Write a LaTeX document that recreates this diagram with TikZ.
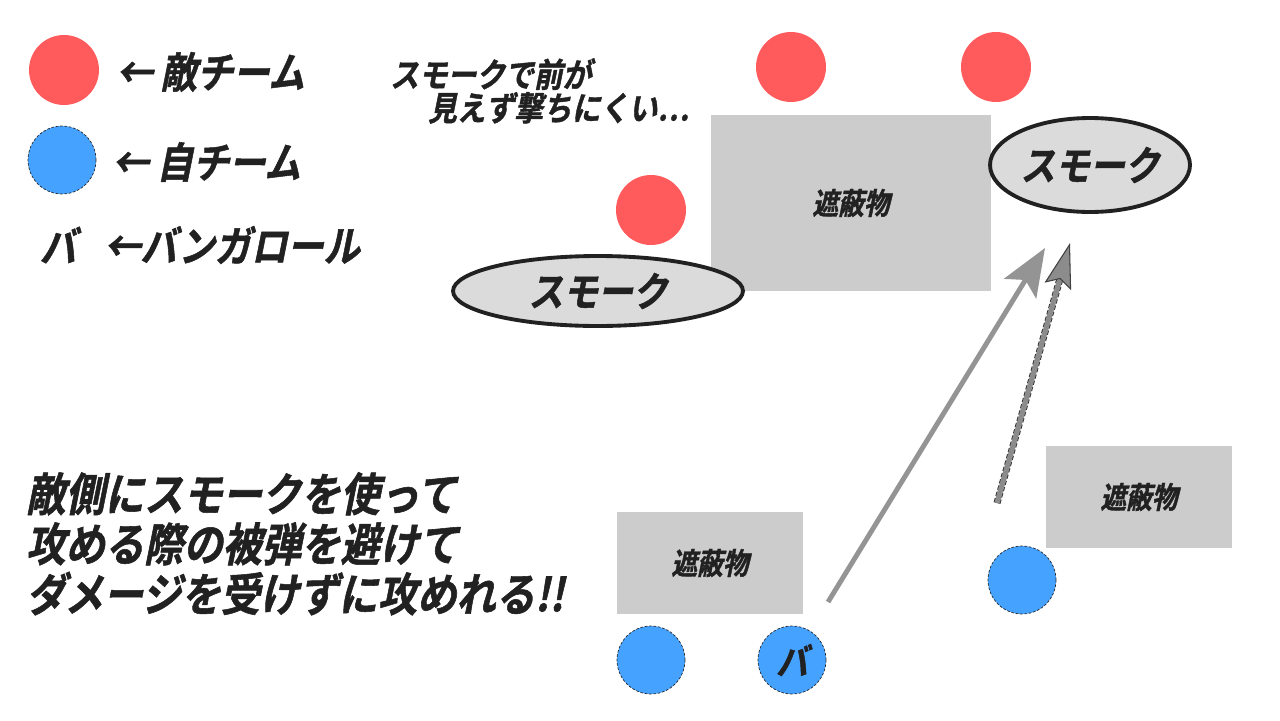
\documentclass[tikz,border=0pt]{standalone}
\usepackage{fontspec}
\usepackage{tikz}
\usetikzlibrary{shapes.geometric,arrows.meta}
\newfontfamily\jpfont[FakeSlant=0.2,FakeStretch=0.86,BoldFont={Noto Sans CJK JP Bold},BoldFeatures={FakeBold=1.2}]{Noto Sans CJK JP}
\definecolor{teamred}{HTML}{FF5A5C}
\definecolor{teamblue}{HTML}{45A2FF}
\tikzset{
  enemy/.style={circle,fill=teamred,minimum size=1.4cm,inner sep=0pt},
  ally/.style={circle,fill=teamblue,draw=black!85,dash pattern=on 1.5pt off 1pt,thin,minimum size=1.36cm,inner sep=0pt},
  cover/.style={fill=black!20,inner sep=0pt},
  smoke/.style={ellipse,fill=black!14,draw=black!87,line width=2.2pt,inner sep=0pt},
  jp/.style={font=\jpfont\bfseries,text=black!87}
}
\begin{document}
\begin{tikzpicture}[x=0.02cm,y=-0.02cm]
      \useasboundingbox[fill=white] (0,0) rectangle (1280,720);
      \node[enemy] (lred) at (64,70) {};
      \node[ally] (lblue) at (62,160) {};
      \node[jp,font=\jpfont\bfseries\fontsize{24}{26}\selectfont,anchor=west] (lredtxt) at (110,72) {← 敵チーム};
      \node[jp,font=\jpfont\bfseries\fontsize{24}{26}\selectfont,anchor=west] (lbluetxt) at (106,162) {← 自チーム};
      \node[jp,font=\jpfont\bfseries\fontsize{24}{26}\selectfont] (lbang) at (58,245) {バ};
      \node[jp,font=\jpfont\bfseries\fontsize{24}{26}\selectfont,anchor=west] (lbangtxt) at (98,245) {←バンガロール};
      \node[jp,font=\jpfont\bfseries\fontsize{19}{19}\selectfont,align=left,anchor=north west] (note) at (384,52) {スモークで前が\\\hspace*{0.76cm}見えず撃ちにくい…};
      \node[cover,minimum width=5.6cm,minimum height=3.54cm] (wall) at (851,203) {};
      \node[jp,font=\jpfont\bfseries\fontsize{17}{18}\selectfont] at (wall) {遮蔽物};
      \node[cover,minimum width=3.72cm,minimum height=2.04cm] (walll) at (710,563) {};
      \node[jp,font=\jpfont\bfseries\fontsize{17}{18}\selectfont] at (walll) {遮蔽物};
      \node[cover,minimum width=3.72cm,minimum height=2.04cm] (wallr) at (1139,497) {};
      \node[jp,font=\jpfont\bfseries\fontsize{17}{18}\selectfont] at (wallr) {遮蔽物};
      \node[enemy] (e1) at (791,67) {};
      \node[enemy] (e2) at (996,67) {};
      \node[enemy] (e3) at (651,210) {};
      \node[smoke,minimum width=4cm,minimum height=1.88cm] (smoker) at (1090,165) {};
      \node[jp,font=\jpfont\bfseries\fontsize{23}{24}\selectfont] at (smoker) {スモーク};
      \node[smoke,minimum width=5.8cm,minimum height=1.4cm] (smokel) at (598,291) {};
      \node[jp,font=\jpfont\bfseries\fontsize{23}{24}\selectfont] at (smokel) {スモーク};
      \node[ally] (a1) at (1022,580) {};
      \node[ally] (a2) at (651,660) {};
      \node[ally] (a3) at (792,660) {};
      \node[jp,font=\jpfont\bfseries\fontsize{21}{22}\selectfont] at (a3) {バ};
      \coordinate (s1) at (828,602);
      \coordinate (t1) at (1045,248);
      \coordinate (s2) at (997,503);
      \coordinate (t2) at (1070,243);
      \draw [line width=2.8pt,black!42,-{Stealth[length=0.95cm,width=0.75cm,inset=0.2cm]}] (s1) -- (t1);
      \draw [line width=4pt,black!80,dash pattern=on 2.5pt off 1.2pt,shorten >=0.7cm] (s2) -- (t2);
      \draw [line width=3pt,black!45,-{Stealth[length=0.9cm,width=0.55cm,inset=0.15cm,line width=0.6pt,color=black!75,fill=black!45]}] (s2) -- (t2);
      \node[jp,font=\jpfont\bfseries\fontsize{26}{28.5}\selectfont,align=left,anchor=north west] (summary) at (20,466) {敵側にスモークを使って\\攻める際の被弾を避けて\\ダメージを受けずに攻めれる!!};
    \end{tikzpicture}
\end{document}
